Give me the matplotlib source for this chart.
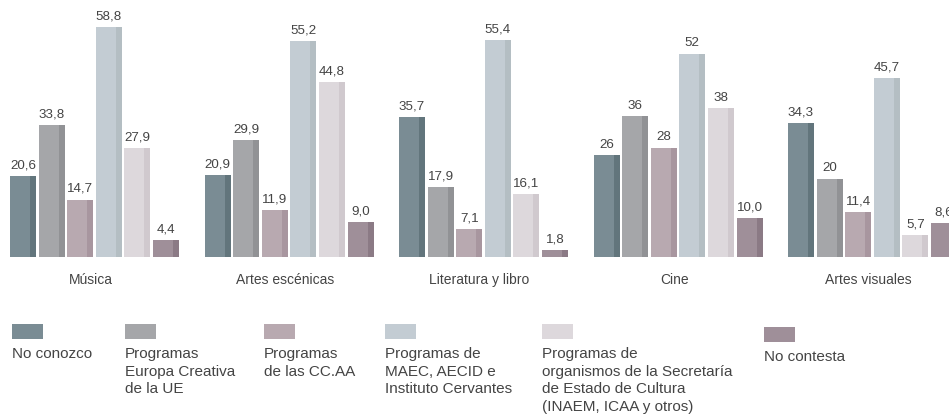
import matplotlib.pyplot as plt
import numpy as np

plt.rcParams['font.family'] = ['Liberation Sans', 'DejaVu Sans']

categories = ["Música", "Artes escénicas", "Literatura y libro", "Cine", "Artes visuales"]

series_names = [
    "No conozco",
    "Programas\nEuropa Creativa\nde la UE",
    "Programas\nde las CC.AA",
    "Programas de\nMAEC, AECID e\nInstituto Cervantes",
    "Programas de\norganismos de la Secretaría\nde Estado de Cultura\n(INAEM, ICAA y otros)",
    "No contesta",
]

# one list per series, values for each category
no_conozco = [20.6, 20.9, 35.7, 26, 34.3]
europa_creativa = [33.8, 29.9, 17.9, 36, 20]
cc_aa = [14.7, 11.9, 7.1, 28, 11.4]
maec = [58.8, 55.2, 55.4, 52, 45.7]
secretaria = [27.9, 44.8, 16.1, 38, 5.7]
no_contesta = [4.4, 9.0, 1.8, 10.0, 8.6]

value_labels = [
    ["20,6", "20,9", "35,7", "26", "34,3"],
    ["33,8", "29,9", "17,9", "36", "20"],
    ["14,7", "11,9", "7,1", "28", "11,4"],
    ["58,8", "55,2", "55,4", "52", "45,7"],
    ["27,9", "44,8", "16,1", "38", "5,7"],
    ["4,4", "9,0", "1,8", "10,0", "8,6"],
]

series = [no_conozco, europa_creativa, cc_aa, maec, secretaria, no_contesta]
colors = ['#7a8c94', '#a5a6a9', '#b8a9b0', '#c3ccd3', '#ddd8dc', '#9f8f99']
shades = ['#62757c', '#919295', '#a8969f', '#b4bec3', '#d0c9ce', '#8b7a85']
text_color = '#444444'

W, H = 949, 420
fig = plt.figure(figsize=(W / 100, H / 100), dpi=100)

# layout in pixels
group_px = 194.5
pitch_px = 28.6
bar_px = 26.0
strip_px = 6.0
first_center_px = 10 + (5 * pitch_px + bar_px) / 2
base_px = 257          # baseline, from top
px_per_unit = 3.91
ymax = 65

ax_bottom = (H - base_px) / H
ax_height = ymax * px_per_unit / H
ax = fig.add_axes([0, ax_bottom, 1, ax_height])
ax.set_xlim(-first_center_px / group_px, (W - first_center_px) / group_px)
ax.set_ylim(0, ymax)
ax.axis('off')

x = np.arange(len(categories))
pitch = pitch_px / group_px
bw = bar_px / group_px
sw = strip_px / group_px
offset0 = -(5 * pitch + bw) / 2

for j, vals in enumerate(series):
    left = x + offset0 + j * pitch
    ax.bar(left, vals, bw, align='edge', color=colors[j], linewidth=0)
    ax.bar(left + bw - sw, vals, sw, align='edge', color=shades[j], linewidth=0)
    for i, v in enumerate(vals):
        ax.text(left[i] + bw / 2, v + 1.2, value_labels[j][i], ha='center', va='bottom',
                fontsize=9.6, color=text_color, clip_on=False)

for i, c in enumerate(categories):
    ax.text(x[i] - 0.02, -4.0, c, ha='center', va='top', fontsize=10, color=text_color)

# legend
leg_x = [12, 125, 264, 385, 542, 764]
for j, name in enumerate(series_names):
    top = 324 if j != 5 else 327
    fig.patches.append(plt.Rectangle((leg_x[j] / W, 1 - (top + 15) / H), 31 / W, 15 / H,
                                     transform=fig.transFigure, color=colors[j], linewidth=0))
    fig.text(leg_x[j] / W, 1 - (top + 23) / H, name, ha='left', va='top', fontsize=11,
             color=text_color, linespacing=1.33)

fig.savefig('out.png', dpi=100)
